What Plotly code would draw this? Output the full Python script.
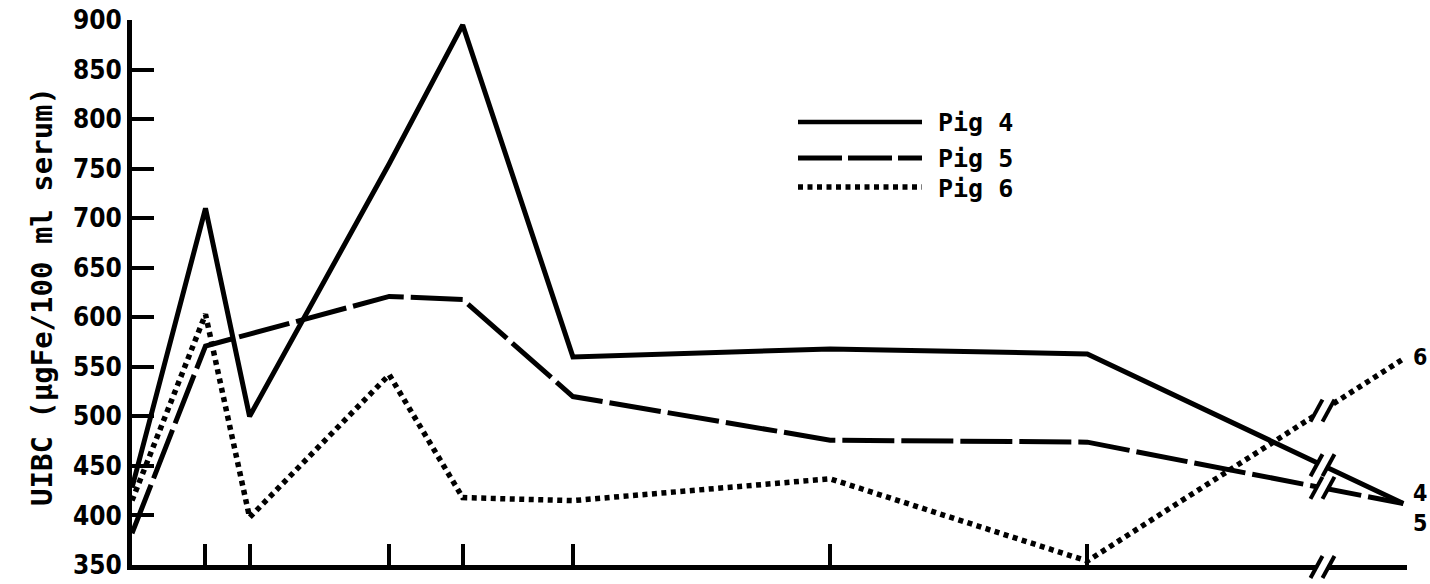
import numpy as np
import plotly.graph_objects as go

# ---- data ----
days = [0, 2, 3.2, 7, 9, 12, 19, 26, 34.6]          # sampling times (axis units); last point lies beyond the axis break
pig4 = [428, 710, 500, 755, 895, 560, 568, 563, 412]
pig5 = [382, 571, 583, 621, 618, 520, 476, 474, 412]
pig6 = [415, 603, 398, 542, 418, 415, 437, 354, 558]
series_names = ["Pig 4", "Pig 5", "Pig 6"]
end_labels = ["4", "5", "6"]
x_tick_days = [2, 3.2, 7, 9, 12, 19, 26, 34.7]
y_ticks = list(range(350, 901, 50))
x_break = 32.4
y_title = "UIBC (µgFe/100 ml serum)"

# ---- layout geometry ----
W, H = 1430, 584
L, R, T, B = 132, 23, 20, 19
PW, PH = W - L - R, H - T - B
XMAX = 34.7
YMIN, YMAX = 350, 900

def xp(d):
    return d / XMAX

def yp(v):
    return (v - YMIN) / (YMAX - YMIN)

def px_x(px):
    return (px - L) / PW

def px_y(py):
    return (H - B - py) / PH

LBL_FONT = "DejaVu Sans Condensed, Liberation Sans Narrow, Arial Narrow, sans-serif"
MONO = "DejaVu Sans Mono, Liberation Mono, monospace"

series = [pig4, pig5, pig6]
styles = [
    dict(width=5, dash="solid", leg_dash="solid", leg_w=4.5),
    dict(width=5, dash="52px,7px", leg_dash="44px,6px", leg_w=5),
    dict(width=5.5, dash="5px,4.5px", leg_dash="5px,4.5px", leg_w=5.5),
]

fig = go.Figure()
for name, vals, st in zip(series_names, series, styles):
    fig.add_trace(go.Scatter(
        x=days, y=vals, mode="lines", name=name,
        line=dict(color="black", width=st["width"], dash=st["dash"]),
        showlegend=False, hoverinfo="skip",
    ))

shapes = []
annotations = []

# ---- break marks ("//") on each line and on the x axis ----
def break_mark(xc, yc):
    s, hx, hy = 6, 6, 11
    dxs = s / PW
    ax, ay = hx / PW, hy / PH
    pts = [
        (xc - dxs - ax, yc - ay), (xc - dxs + ax, yc + ay),
        (xc + dxs + ax, yc + ay), (xc + dxs - ax, yc - ay),
    ]
    path = "M {} {} L {} {} L {} {} L {} {} Z".format(*[c for p in pts for c in p])
    shapes.append(dict(type="path", path=path, xref="paper", yref="paper",
                       fillcolor="white", line=dict(width=0), layer="above"))
    for sign in (-1, 1):
        shapes.append(dict(type="line", xref="paper", yref="paper",
                           x0=xc + sign * dxs - ax, y0=yc - ay,
                           x1=xc + sign * dxs + ax, y1=yc + ay,
                           line=dict(color="black", width=4), layer="above"))

for vals in series:
    yb = float(np.interp(x_break, days, vals))
    break_mark(xp(x_break), yp(yb))
break_mark(xp(x_break), px_y(H - B + 2))

# ---- end labels ----
shifts = [11, -19, 2]
for lab, vals, sh in zip(end_labels, series, shifts):
    annotations.append(dict(x=px_x(1420), y=vals[-1], xref="paper", yref="y", text=lab,
                            showarrow=False, yshift=sh, xanchor="center",
                            font=dict(family=LBL_FONT, size=23, color="black", weight="bold")))

# ---- custom legend ----
leg_y = [122, 158, 187]
for name, st, ly in zip(series_names, styles, leg_y):
    shapes.append(dict(type="line", xref="paper", yref="paper",
                       x0=px_x(798), x1=px_x(922), y0=px_y(ly), y1=px_y(ly),
                       line=dict(color="black", width=st["leg_w"], dash=st["leg_dash"])))
    annotations.append(dict(x=px_x(936), y=px_y(ly + 1), xref="paper", yref="paper",
                            text=name, showarrow=False, xanchor="left", yanchor="middle",
                            font=dict(family=MONO, size=25, color="black", weight="bold")))

# ---- y axis title ----
annotations.append(dict(x=px_x(42), y=px_y(297), xref="paper", yref="paper",
                        text=y_title, textangle=-90, showarrow=False,
                        xanchor="center", yanchor="middle",
                        font=dict(family=MONO, size=29, color="black", weight="bold")))

fig.update_layout(
    width=W, height=H,
    margin=dict(l=L, r=R, t=T, b=B, autoexpand=False),
    paper_bgcolor="white", plot_bgcolor="white",
    shapes=shapes, annotations=annotations,
    showlegend=False,
)
fig.update_xaxes(
    range=[0, XMAX], showgrid=False, zeroline=False, automargin=False,
    showline=True, linecolor="black", linewidth=5,
    ticks="inside", ticklen=21, tickwidth=4, tickcolor="black",
    tickmode="array", tickvals=x_tick_days, showticklabels=False,
)
fig.update_yaxes(
    range=[YMIN, YMAX], showgrid=False, zeroline=False, automargin=False,
    showline=True, linecolor="black", linewidth=5,
    ticks="inside", ticklen=22, tickwidth=4, tickcolor="black",
    tickmode="array", tickvals=y_ticks, ticktext=[str(v) for v in y_ticks],
    tickfont=dict(family=LBL_FONT, size=26, color="black", weight="bold"),
)

fig.write_html("out.html", config={"displayModeBar": False},
               post_script="document.body.style.margin='0';")
